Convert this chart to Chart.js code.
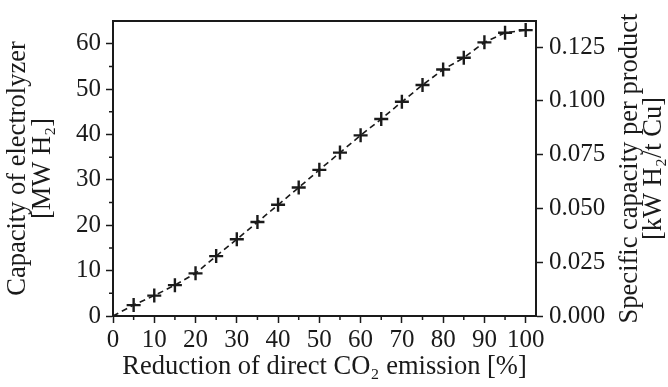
<!DOCTYPE html>
<html>
<head>
<meta charset="utf-8">
<script src="https://cdn.jsdelivr.net/npm/chart.js@4.4.1/dist/chart.umd.min.js"></script>
<style>
  html, body { margin: 0; padding: 0; background: #fff; }
  #wrap { width: 668px; height: 387px; }
</style>
</head>
<body>
<div id="wrap"><canvas id="chart" width="668" height="387"></canvas></div>
<script>
// Reduction of direct CO2 emission [%]
const reduction = [0, 5, 10, 15, 20, 25, 30, 35, 40, 45, 50, 55, 60, 65, 70, 75, 80, 85, 90, 95, 100];
// Capacity of electrolyzer [MW H2]
const capacity = [0, 2.4, 4.5, 6.8, 9.4, 13.2, 16.9, 20.7, 24.5, 28.3, 32.2, 36.0, 39.8, 43.4, 47.2, 50.9, 54.3, 56.9, 60.3, 62.4, 63.0];
// right axis tick values
const specificTicks = [0, 0.025, 0.05, 0.075, 0.1, 0.125];

const FONT = "'Liberation Serif', 'Times New Roman', serif";
const INK = '#1a1a1a';
const TITLE_SIZE = 26.5;

// minor ticks, top frame and right axis title
const extras = {
  id: 'extras',
  afterDraw(chart) {
    const ctx = chart.ctx;
    const a = chart.chartArea;
    const xs = chart.scales.x;
    const ys = chart.scales.y;
    ctx.save();
    ctx.strokeStyle = INK;
    ctx.lineWidth = 1.5;
    ctx.beginPath();
    for (let v = 5; v < 100; v += 10) {
      const px = xs.getPixelForValue(v);
      ctx.moveTo(px, a.bottom);
      ctx.lineTo(px, a.bottom + 4);
    }
    for (let v = 5; v < 65; v += 10) {
      const py = ys.getPixelForValue(v);
      ctx.moveTo(a.left, py);
      ctx.lineTo(a.left - 4, py);
    }
    ctx.stroke();
    ctx.lineWidth = 2;
    ctx.beginPath();
    ctx.moveTo(a.left, a.top);
    ctx.lineTo(a.right, a.top);
    ctx.stroke();

    // right axis title reads bottom to top like the left one
    ctx.fillStyle = INK;
    ctx.font = TITLE_SIZE + 'px ' + FONT;
    ctx.textAlign = 'center';
    ctx.textBaseline = 'middle';
    ctx.translate(630, (a.top + a.bottom) / 2);
    ctx.rotate(-Math.PI / 2);
    ctx.fillText('Specific capacity per product', 0, 0);
    ctx.fillText('[kW H\u2082/t Cu]', 0, 24);
    ctx.restore();
  }
};

const axisBase = {
  border: { display: true, color: INK, width: 2 },
  grid: { drawOnChartArea: false, drawTicks: true, tickLength: 7, tickColor: INK, tickWidth: 1.5 },
};

new Chart(document.getElementById('chart'), {
  type: 'scatter',
  data: {
    datasets: [{
      data: reduction.map((r, i) => ({ x: r, y: capacity[i] })),
      showLine: true,
      borderColor: INK,
      borderWidth: 1.6,
      borderDash: [6, 4],
      pointStyle: 'cross',
      pointRadius: reduction.map(r => (r === 0 ? 0 : 7)),
      pointBorderWidth: 2.4,
      pointBorderColor: INK,
      pointHoverRadius: 7,
    }]
  },
  options: {
    responsive: false,
    animation: false,
    layout: { padding: { top: 15, left: 0, right: 0, bottom: 0 } },
    plugins: { legend: { display: false }, tooltip: { enabled: false } },
    scales: {
      x: {
        ...axisBase,
        type: 'linear',
        min: 0,
        max: 102.5,
        ticks: { stepSize: 10, includeBounds: false, color: INK, font: { family: FONT, size: 25 }, padding: 2, maxRotation: 0 },
        title: { display: true, text: 'Reduction of direct CO\u2082 emission [%]', color: INK, font: { family: FONT, size: TITLE_SIZE }, padding: { top: 0, bottom: 4 } },
        afterFit(s) { s.height = 71; }
      },
      y: {
        ...axisBase,
        position: 'left',
        min: 0,
        max: 65,
        ticks: { stepSize: 10, includeBounds: false, color: INK, font: { family: FONT, size: 25 }, padding: 5 },
        title: { display: true, text: ['Capacity of electrolyzer', '[MW H\u2082]'], color: INK, font: { family: FONT, size: TITLE_SIZE, lineHeight: 0.92 }, padding: { top: 6, bottom: 0 } },
        afterFit(s) { s.width = 113; }
      },
      y2: {
        ...axisBase,
        position: 'right',
        min: 0,
        max: 0.1371,
        afterBuildTicks(s) { s.ticks = specificTicks.map(v => ({ value: v })); },
        ticks: { color: INK, font: { family: FONT, size: 25 }, padding: 6, callback: v => v.toFixed(3) },
        afterFit(s) { s.width = 132; }
      }
    }
  },
  plugins: [extras]
});
</script>
</body>
</html>
